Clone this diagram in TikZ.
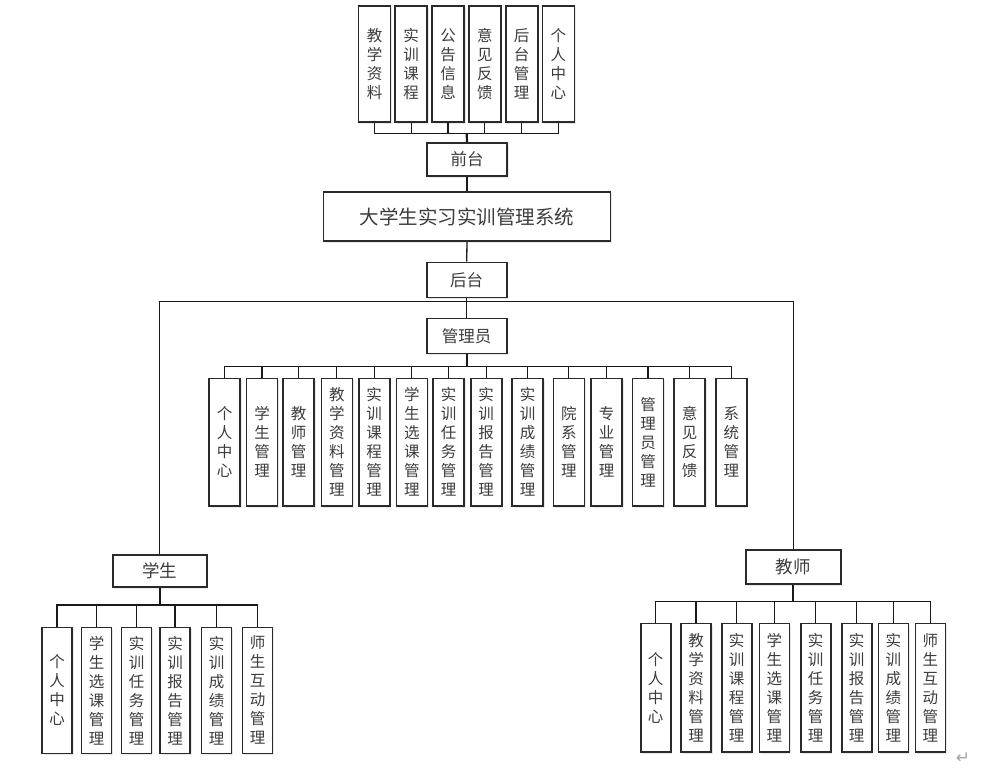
\documentclass[tikz,border=0pt]{standalone}
\usepackage{fontspec}
\newfontfamily\cjk{Noto Sans CJK SC}
\newfontfamily\symfont{DejaVu Sans}
\usetikzlibrary{shadows}
\definecolor{boxline}{HTML}{2A2A2A}
\definecolor{txt}{HTML}{3C3C3C}
\definecolor{glow}{HTML}{C3CFE2}
\tikzset{
  box/.style={draw=boxline, line width=1.6pt, fill=white, inner sep=0pt,
    text=txt, align=center,
    drop shadow={shadow xshift=1.5pt, shadow yshift=-1.8pt, fill=glow, opacity=0.45}},
  vbox/.style={box, font=\cjk\fontsize{15.5}{19}\selectfont},
  hbox/.style={box, font=\cjk\fontsize{16.5}{20}\selectfont},
  conn/.style={line width=1.3pt, draw=black!90},
  stub/.style={line width=2.2pt, draw=black!90},
}
\begin{document}
\begin{tikzpicture}[x=1pt,y=-1pt]
\useasboundingbox (0,0) rectangle (983,771);

% ---------- front end ----------
\begin{scope}[every node/.append style={vbox, minimum width=32pt, minimum height=116pt}]
\node (t1) at (374.5,64) {教\\学\\资\\料};
\node (t2) at (411.2,64) {实\\训\\课\\程};
\node (t3) at (448.0,64) {公\\告\\信\\息};
\node (t4) at (484.8,64) {意\\见\\反\\馈};
\node (t5) at (521.7,64) {后\\台\\管\\理};
\node (t6) at (558.3,64) {个\\人\\中\\心};
\end{scope}

\node[hbox, minimum width=80pt, minimum height=33pt] (qt) at (467,159.2) {前台};
\node[box, font=\cjk\fontsize{19.5}{24}\selectfont, minimum width=287pt, minimum height=49pt] (sys) at (467,216.7) {大学生实习实训管理系统};
\node[hbox, minimum width=80pt, minimum height=35pt] (ht) at (466.7,279.8) {后台};
\node[hbox, minimum width=80pt, minimum height=35pt] (adm) at (466.7,335.8) {管理员};
\node[box, font=\cjk\fontsize{17.5}{20}\selectfont, minimum width=94pt, minimum height=32pt] (stu) at (159.7,570.8) {学生};
\node[box, font=\cjk\fontsize{17.5}{20}\selectfont, minimum width=95pt, minimum height=34pt] (tea) at (793.3,567.2) {教师};

% ---------- administrator ----------
\begin{scope}[every node/.append style={vbox, minimum width=31pt, minimum height=127.7pt}]
\node (a1)  at (224.5,442.2) {个\\人\\中\\心};
\node (a2)  at (262.0,442.2) {学\\生\\管\\理};
\node (a3)  at (298.5,442.2) {教\\师\\管\\理};
\node (a4)  at (336.8,442.2) {教\\学\\资\\料\\管\\理};
\node (a5)  at (374.2,442.2) {实\\训\\课\\程\\管\\理};
\node (a6)  at (411.8,442.2) {学\\生\\选\\课\\管\\理};
\node (a7)  at (448.5,442.2) {实\\训\\任\\务\\管\\理};
\node (a8)  at (486.2,442.2) {实\\训\\报\\告\\管\\理};
\node (a9)  at (527.5,442.2) {实\\训\\成\\绩\\管\\理};
\node (a10) at (568.8,442.2) {院\\系\\管\\理};
\node (a11) at (606.5,442.2) {专\\业\\管\\理};
\node (a12) at (648.0,442.2) {管\\理\\员\\管\\理};
\node (a13) at (689.5,442.2) {意\\见\\反\\馈};
\node (a14) at (731.3,442.2) {系\\统\\管\\理};
\end{scope}

% ---------- student ----------
\begin{scope}[every node/.append style={vbox, minimum width=30pt, minimum height=126pt}]
\node (s1) at (57.0,690.3)  {个\\人\\中\\心};
\node (s2) at (96.5,690.3)  {学\\生\\选\\课\\管\\理};
\node (s3) at (136.5,690.3) {实\\训\\任\\务\\管\\理};
\node (s4) at (175.0,690.3) {实\\训\\报\\告\\管\\理};
\node (s5) at (216.5,690.3) {实\\训\\成\\绩\\管\\理};
\node (s6) at (257.5,690.3) {师\\生\\互\\动\\管\\理};
\end{scope}

% ---------- teacher ----------
\begin{scope}[every node/.append style={vbox, minimum width=30pt, minimum height=128.4pt}]
\node (e1) at (655.7,687.5) {个\\人\\中\\心};
\node (e2) at (696.0,687.5) {教\\学\\资\\料\\管\\理};
\node (e3) at (736.7,687.5) {实\\训\\课\\程\\管\\理};
\node (e4) at (774.3,687.5) {学\\生\\选\\课\\管\\理};
\node (e5) at (815.7,687.5) {实\\训\\任\\务\\管\\理};
\node (e6) at (856.7,687.5) {实\\训\\报\\告\\管\\理};
\node (e7) at (893.3,687.5) {实\\训\\成\\绩\\管\\理};
\node (e8) at (930.3,687.5) {师\\生\\互\\动\\管\\理};
\end{scope}

% ---------- bus junctions ----------
\coordinate (tbus) at (466.7,133.3);
\coordinate (hbus) at (466.7,301.7);
\coordinate (abus) at (466.7,366.7);
\coordinate (sbus) at (159.7,605.0);
\coordinate (ebus) at (793.3,601.7);

% ---------- connectors ----------
\foreach \c in {t1,t2,t3,t4,t5,t6} \draw[conn] (\c.south) |- (tbus);
\draw[stub] (tbus) -- (qt.north);
\draw[conn] (qt.south) -- (sys.north);
\draw[conn] (sys.south) -- (ht.north);
\draw[conn] (ht.south) -- (hbus);
\draw[conn] (hbus) -- (adm.north);
\draw[conn] (stu.north) |- (hbus);
\draw[conn] (tea.north) |- (hbus);

\foreach \c in {a1,a2,a3,a4,a5,a6,a7,a8,a9,a10,a11,a12,a13,a14} \draw[conn] (\c.north) |- (abus);
\draw[stub] (adm.south) -- (abus);

\foreach \c in {s1,s2,s3,s4,s5,s6} \draw[conn] (\c.north) |- (sbus);
\draw[stub] (stu.south) -- (sbus);

\foreach \c in {e1,e2,e3,e4,e5,e6,e7,e8} \draw[conn] (\c.north) |- (ebus);
\draw[stub] (tea.south) -- (ebus);

% paragraph mark in the lower right corner
\node[text=black!35, font=\symfont\fontsize{17}{17}\selectfont, inner sep=0pt] (pm) at (963,758) {↵};
\end{tikzpicture}
\end{document}
